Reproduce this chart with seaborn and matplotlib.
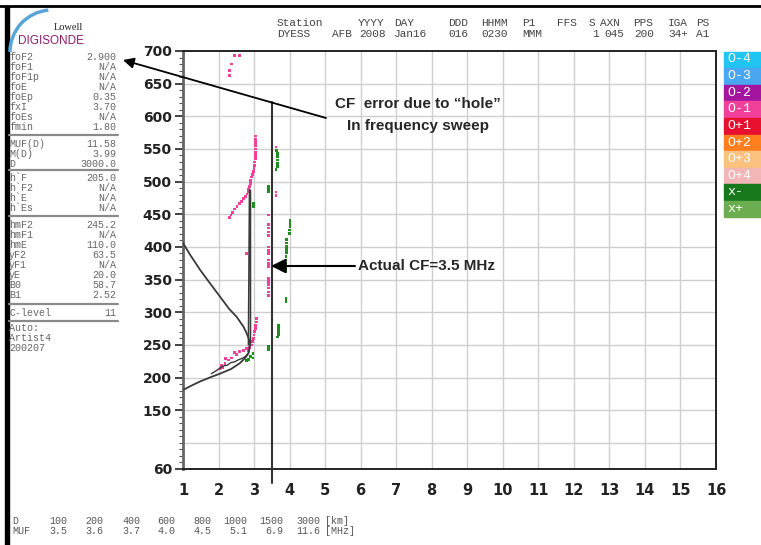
import matplotlib
matplotlib.use("Agg")
import matplotlib.pyplot as plt
import pandas as pd
import seaborn as sns
from matplotlib.patches import Rectangle, Arc

W, H = 761, 545

# O-1 echoes (frequency MHz, virtual height km)
o_freq = [2.30, 2.30, 2.37, 2.45, 2.58,
          2.30, 2.35, 2.40, 2.46, 2.52, 2.58, 2.64, 2.70, 2.75, 2.80,
          2.84, 2.85, 2.88, 2.89, 2.90, 2.93, 2.95, 2.99, 3.00, 3.01, 3.02, 3.03,
          3.05, 3.05, 3.05, 3.05, 3.05, 3.05, 3.05,
          3.62, 3.62, 3.62, 3.40,
          3.40, 3.40, 3.40, 3.40, 3.40, 3.40, 3.40, 3.40, 3.40, 3.40,
          3.40, 3.40, 3.40, 3.40, 3.40, 3.40,
          2.79,
          3.07, 3.06, 3.05, 3.04, 3.02, 3.00, 2.98, 2.95, 2.92, 2.88, 2.85,
          2.78, 2.70, 2.60, 2.51, 2.45, 2.37, 2.27, 2.20, 2.18, 2.09, 2.04, 2.12]
o_height = [663, 670, 680, 693, 693,
            445, 449, 453, 458, 462, 466, 470, 474, 477, 481,
            484, 488, 492, 497, 502, 507, 511, 515, 520, 525, 530, 535,
            540, 545, 550, 555, 560, 565, 570,
            553, 484, 479, 449,
            434, 429, 423, 418, 400, 395, 390, 380, 375, 370,
            352, 347, 342, 337, 331, 326,
            390,
            290, 285, 280, 275, 270, 265, 260, 255, 250, 246, 242,
            244, 242, 240, 235, 238, 230, 227, 229, 222, 219, 214, 216]

# X- echoes
x_freq = [3.63, 3.65, 3.67, 3.67, 3.67, 3.65, 3.62,
          3.40, 3.40, 3.40,
          2.98, 2.98,
          4.01, 4.01, 4.01, 4.00, 4.00, 3.92, 3.92, 3.92, 3.92, 3.92,
          3.90, 3.90, 3.90, 3.90, 3.90, 3.90,
          3.90, 3.90,
          3.68, 3.68, 3.68, 3.68, 3.66,
          3.40, 3.40,
          2.97, 2.90, 2.97, 2.85, 2.78]
x_height = [548, 543, 538, 533, 528, 523, 519,
            492, 488, 484,
            467, 462,
            441, 436, 431, 426, 421, 411, 406, 401, 396, 391,
            385, 380, 375, 370, 366, 362,
            321, 317,
            280, 275, 270, 266, 262,
            247, 243,
            237, 232, 230, 228, 226]

# electron density profile and h'F trace
profile_freq = [1.00, 1.20, 1.48, 1.75, 2.04, 2.30, 2.51, 2.70, 2.79, 2.86, 2.89,
                2.87, 2.84, 2.75, 2.60, 2.35, 2.04, 1.75, 1.48, 1.25, 1.00]
profile_height = [406, 388, 365, 345, 324, 305, 293, 278, 268, 258, 252,
                  245, 237, 230, 222, 213, 206, 200, 194, 188, 181]
cusp_freq = [2.84, 2.87, 2.90, 2.90]
cusp_height = [250, 487, 487, 252]
trace_freq = [1.80, 1.95, 2.05, 2.15, 2.25, 2.35, 2.45, 2.55, 2.65, 2.75, 2.85]
trace_height = [206, 211, 215, 218, 219, 223, 224, 227, 229, 232, 238]

cf_freq = 3.5
cf_top = 622

freq_ticks = list(range(1, 17))
height_ticks = [60, 150, 200, 250, 300, 350, 400, 450, 500, 550, 600, 650, 700]
height_grid = [100, 150, 200, 250, 300, 350, 400, 450, 500, 550, 600, 650]

side_groups = [
    [("foF2", "2.900"), ("foF1", "N/A"), ("foF1p", "N/A"), ("foE", "N/A"),
     ("foEp", "0.35"), ("fxI", "3.70"), ("foEs", "N/A"), ("fmin", "1.80")],
    [("MUF(D)", "11.58"), ("M(D)", "3.99"), ("D", "3000.0")],
    [("h`F", "205.0"), ("h`F2", "N/A"), ("h`E", "N/A"), ("h`Es", "N/A")],
    [("hmF2", "245.2"), ("hmF1", "N/A"), ("hmE", "110.0"), ("yF2", "63.5"),
     ("yF1", "N/A"), ("yE", "20.0"), ("B0", "58.7"), ("B1", "2.52")],
    [("C-level", "11")],
    [("Auto:", ""), ("Artist4", ""), ("200207", "")],
]
group_top = [57, 144, 178, 225, 313, 328]
separators = [135, 170, 216, 304, 321]

legend_labels = ["O-4", "O-3", "O-2", "O-1", "O+1", "O+2", "O+3", "O+4", "x-", "x+"]
legend_colors = ["#22c4f2", "#4aa6f0", "#a3159e", "#f0409a", "#e8102e",
                 "#ff7f1e", "#fbc27f", "#f2b6b6", "#16781a", "#6cae4f"]

header1 = [("Station", 277), ("YYYY", 358), ("DAY", 394), ("DDD", 448), ("HHMM", 481),
           ("P1", 522), ("FFS", 557), ("S", 589), ("AXN", 600), ("PPS", 633),
           ("IGA", 668), ("PS", 696)]
header2 = [("DYESS", 277), ("AFB", 332), ("2008", 359), ("Jan16", 394), ("016", 448),
           ("0230", 481), ("MMM", 522), ("1", 592), ("045", 604), ("200", 634),
           ("34+", 668), ("A1", 696)]

muf_dist = ["100", "200", "400", "600", "800", "1000", "1500", "3000"]
muf_freq = ["3.5", "3.6", "3.7", "4.0", "4.5", "5.1", "6.9", "11.6"]
muf_right = [67, 103, 140, 175, 211, 247, 283, 320]

sns.set_style("white")
mono = "Liberation Mono"

fig = plt.figure(figsize=(W / 100, H / 100), dpi=100)
ax = fig.add_axes([183 / W, (H - 469) / H, (716 - 183) / W, (469 - 51) / H])
ax.set_zorder(1)

for h in height_grid:
    ax.axhline(h, color="#cfcfcf", lw=1, zorder=0)
for f in freq_ticks[1:-1]:
    ax.axvline(f, color="#cfcfcf", lw=1, zorder=0)

echoes = pd.DataFrame({
    "freq": o_freq + x_freq,
    "height": o_height + x_height,
    "mode": ["O-1"] * len(o_freq) + ["x-"] * len(x_freq),
})
sns.scatterplot(data=echoes, x="freq", y="height", hue="mode",
                palette={"O-1": "#f0409a", "x-": "#1e8c1e"},
                marker="s", s=4, linewidth=0, legend=False, ax=ax, zorder=3)

sns.lineplot(x=profile_freq, y=profile_height, sort=False, estimator=None,
             color="#3a3a3a", lw=1.3, ax=ax, zorder=4)
sns.lineplot(x=cusp_freq, y=cusp_height, sort=False, estimator=None,
             color="#3a3a3a", lw=1.1, ax=ax, zorder=4)
sns.lineplot(x=trace_freq, y=trace_height, sort=False, estimator=None,
             color="#3a3a3a", lw=1.0, ax=ax, zorder=4)
ax.plot([cf_freq, cf_freq], [38, cf_top], color="#333333", lw=1.5,
        clip_on=False, zorder=5)

ax.set_xlim(1, 16)
ax.set_ylim(60, 700)
ax.set_xticks(freq_ticks)
ax.set_yticks(height_ticks)
ax.set_yticks(range(60, 701, 10), minor=True)
ax.set_xlabel("")
ax.set_ylabel("")
ax.tick_params(axis="x", length=5, width=1.2, pad=5, labelsize=10.5, colors="#222222")
ax.tick_params(axis="y", which="major", length=6, width=1.2, pad=2,
               labelsize=10, colors="#222222", left=True)
ax.tick_params(axis="y", which="minor", length=3, width=0.8, color="#555555", left=True)
for lab in ax.get_xticklabels() + ax.get_yticklabels():
    lab.set_fontweight("bold")
for side in ["top", "right", "bottom"]:
    ax.spines[side].set_color("#222222")
    ax.spines[side].set_linewidth(1.4)
ax.spines["left"].set_color("#666666")
ax.spines["left"].set_linewidth(2)

# overlay in pixel coordinates for the page furniture
ov = fig.add_axes([0, 0, 1, 1])
ov.set_zorder(2)
ov.set_xlim(0, W)
ov.set_ylim(H, 0)
ov.axis("off")
ov.patch.set_visible(False)

ov.plot([0, W], [6, 6], color="black", lw=2)
ov.add_patch(Rectangle((5, 6), 4, H, color="black"))

# logo
ov.add_patch(Arc((52, 52), 84, 84, theta1=180, theta2=265, color="#5aa6d6", lw=2.5))
ov.text(68, 28, "Lowell", fontsize=7.5, family="Liberation Serif",
        color="#222222", ha="center", va="center")
ov.text(51, 41, "DIGISONDE", fontsize=8.5, family="Liberation Sans",
        color="#8a1c6a", ha="center", va="center")

# sidebar scaled parameters
for top, group in zip(group_top, side_groups):
    for i, (name, val) in enumerate(group):
        y = top + i * 10
        ov.text(9, y, name, fontsize=7.2, family=mono, color="#666666", va="center")
        if val:
            ov.text(116, y, val, fontsize=7.2, family=mono, color="#666666",
                    va="center", ha="right")
for y in separators:
    ov.plot([9, 118], [y, y], color="#8a8a8a", lw=1.6)

# header
for tok, x in header1:
    ov.text(x, 23, tok, fontsize=8, family=mono, color="#444444", va="center")
for tok, x in header2:
    ov.text(x, 34, tok, fontsize=8, family=mono, color="#444444", va="center")

# mode legend
for i, (lab, col) in enumerate(zip(legend_labels, legend_colors)):
    top = 51.5 + i * 16.6
    ov.add_patch(Rectangle((724, top), 40, 15.8, color=col))
    ov.text(727, top + 8, lab, fontsize=9.5, family=mono, color="white", va="center")

# bottom MUF table
ov.text(12, 521, "D", fontsize=7.2, family=mono, color="#555555", va="center")
ov.text(12, 531, "MUF", fontsize=7.2, family=mono, color="#555555", va="center")
for d, m, x in zip(muf_dist, muf_freq, muf_right):
    ov.text(x, 521, d, fontsize=7.2, family=mono, color="#555555", va="center", ha="right")
    ov.text(x, 531, m, fontsize=7.2, family=mono, color="#555555", va="center", ha="right")
ov.text(325, 521, "[km]", fontsize=7.2, family=mono, color="#555555", va="center")
ov.text(325, 531, "[MHz]", fontsize=7.2, family=mono, color="#555555", va="center")

# annotations
ov.annotate("", xy=(123, 60), xytext=(326, 118),
            arrowprops=dict(arrowstyle="-|>", color="black", lw=1.3,
                            mutation_scale=16, shrinkA=0, shrinkB=0))
ov.text(418, 104, "CF  error due to \u201chole\u201d", fontsize=11, fontweight="bold",
        family="Liberation Sans", ha="center", va="center")
ov.text(418, 126, "In frequency sweep", fontsize=11, fontweight="bold",
        family="Liberation Sans", ha="center", va="center")
ov.annotate("", xy=(271, 266), xytext=(355, 266),
            arrowprops=dict(arrowstyle="-|>", color="black", lw=1.5,
                            mutation_scale=22, shrinkA=0, shrinkB=0))
ov.text(358, 266, "Actual CF=3.5 MHz", fontsize=11, fontweight="bold",
        family="Liberation Sans", ha="left", va="center")

fig.savefig("out.png", dpi=100)
